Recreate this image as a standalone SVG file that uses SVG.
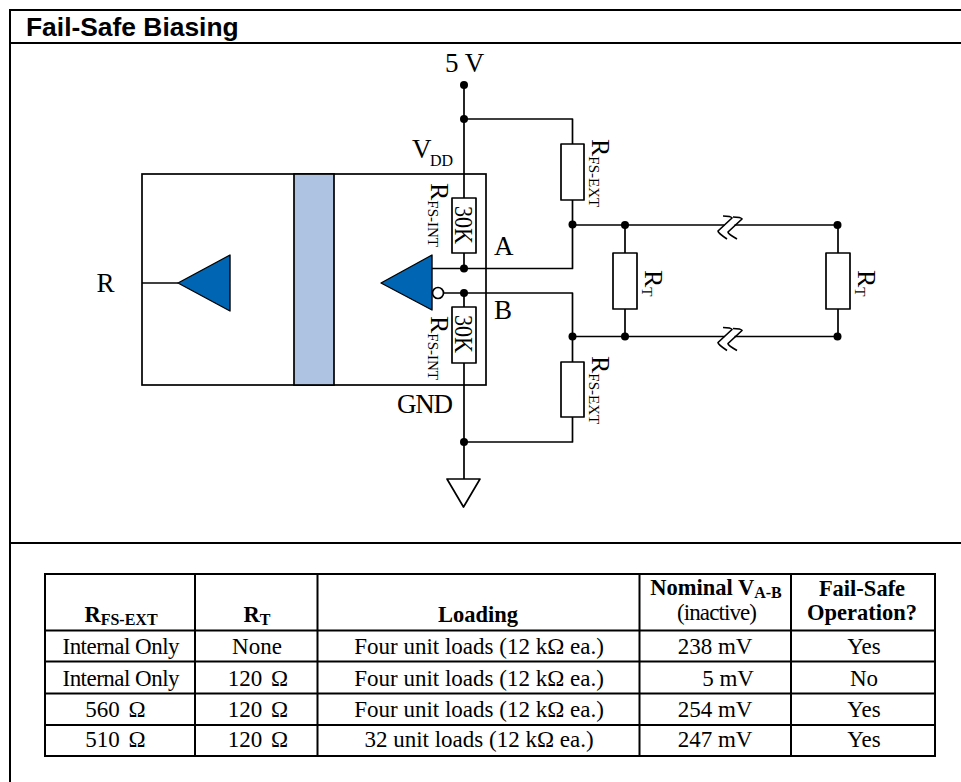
<svg xmlns="http://www.w3.org/2000/svg" width="961" height="782" viewBox="0 0 961 782">
<style>
text{font-family:"Liberation Serif","Times New Roman",serif;fill:#000}
.wire{fill:none;stroke:#000;stroke-width:1.7;stroke-linejoin:round}
.box{fill:#fff;stroke:#000;stroke-width:1.7;stroke-linejoin:round}
.frame{fill:none;stroke:#000;stroke-width:2}
.tri{fill:#0066b3;stroke:#000;stroke-width:1.400;stroke-linejoin:round}
.lbl{font-size:27px}
.sub{font-size:15px}
.rot{font-size:26px}
.cell{font-size:23px;text-anchor:middle}
.ohm{word-spacing:3px}
.head{font-size:22.500px;font-weight:bold;text-anchor:middle}
.grid{stroke:#000;stroke-width:2;fill:none}
</style>
<defs>
<circle id="dot" r="4"/>
<path id="brk" class="wire" d="M-6 -9Q2 -9 3 -7L-11 6Q-11 8 -2 14M4 -8Q12 -8 13 -6L-1 7Q-1 9 8 14"/>
</defs>
<g id="frame">
<path class="frame" d="M961 10H10V782"/>
<path class="frame" d="M10 43H961M10 543H961"/>
<text x="26" y="36" font-size="26.400" font-weight="bold" style="font-family:'Liberation Sans',Arial,sans-serif">Fail-Safe Biasing</text>
</g>
<g id="chip">
<rect x="142" y="174" width="344" height="211" fill="none" stroke="#000" stroke-width="1.700"/>
</g>
<g id="isolation-bar"><rect x="294" y="174" width="40" height="211" fill="#aec2e2" stroke="#000" stroke-width="1.700"/></g>
<g id="connectors">
<path class="wire" d="M142 283H178"/>
<path class="wire" d="M464 85V198M464 119H572.500V144M572.500 200V268.500H432M464 253V268.500"/>
<path class="wire" d="M444 293H572.500V362M572.500 417V442H464M464 293V307M464 363V479"/>
<path class="wire" d="M572.500 225H838V253M625 225V253M625 309V336.500M838 309V336.500M572.500 336.500H838"/>
</g>
<g id="dots">
<use href="#dot" x="464" y="85"/><use href="#dot" x="464" y="119"/><use href="#dot" x="572.500" y="224.500"/><use href="#dot" x="625" y="225"/><use href="#dot" x="837.500" y="225"/>
<use href="#dot" x="464" y="268.500"/><use href="#dot" x="464" y="293"/><use href="#dot" x="572.500" y="336.500"/><use href="#dot" x="625" y="336.500"/><use href="#dot" x="837.500" y="336.500"/><use href="#dot" x="464" y="442"/>
</g>
<g id="breaks">
<rect x="724.500" y="222.500" width="10" height="5" fill="#fff"/>
<rect x="724.500" y="334" width="10" height="5" fill="#fff"/>
<use href="#brk" x="729" y="225"/>
<use href="#brk" x="729" y="336.500"/>
</g>
<g id="driver-left"><path class="tri" d="M178 283L230 255V311Z"/></g>
<g id="receiver"><path class="tri" d="M381 283L432 255V310Z"/><circle cx="438" cy="293" r="5.500" fill="#fff" stroke="#000" stroke-width="1.700"/></g>
<g id="ground"><path class="box" d="M447 479H480L463.500 507Z"/></g>
<g id="r-fs-int-top"><rect class="box" x="452" y="198" width="24" height="55"/><text class="rot" textLength="38" lengthAdjust="spacingAndGlyphs" transform="translate(455,206) rotate(90)">30K</text></g>
<g id="r-fs-int-bot"><rect class="box" x="452" y="307" width="24" height="56"/><text class="rot" textLength="38" lengthAdjust="spacingAndGlyphs" transform="translate(455,315) rotate(90)">30K</text></g>
<g id="r-fs-ext-top"><rect class="box" x="561" y="144" width="23" height="56"/></g>
<g id="r-fs-ext-bot"><rect class="box" x="561" y="362" width="23" height="55"/></g>
<g id="rt-1"><rect class="box" x="613" y="253" width="24" height="56"/></g>
<g id="rt-2"><rect class="box" x="826" y="253" width="24" height="56"/></g>
<g id="labels">
<text class="lbl" x="445" y="72">5 V</text>
<text class="lbl" x="412" y="158">V</text><text class="sub" x="430" y="166" style="font-size:16px">DD</text>
<text class="lbl" x="96.500" y="292">R</text>
<text class="lbl" x="494" y="255">A</text>
<text class="lbl" x="494" y="319">B</text>
<text class="lbl" x="397" y="413" textLength="56">GND</text>
<text class="rot" transform="translate(431,183) rotate(90)">R<tspan class="sub" dy="3">FS-INT</tspan></text>
<text class="rot" transform="translate(431,316) rotate(90)">R<tspan class="sub" dy="3">FS-INT</tspan></text>
<text class="rot" transform="translate(592,139) rotate(90)">R<tspan class="sub" dy="3">FS-EXT</tspan></text>
<text class="rot" transform="translate(592,356) rotate(90)">R<tspan class="sub" dy="3">FS-EXT</tspan></text>
<text class="rot" transform="translate(644.500,270) rotate(90)">R<tspan class="sub" dy="3">T</tspan></text>
<text class="rot" transform="translate(858,270) rotate(90)">R<tspan class="sub" dy="3">T</tspan></text>
</g>
<g id="table">
<path class="grid" d="M45 574H935V756H45ZM195 574V756M317.500 574V756M639.500 574V756M791 574V756M45 630.500H935M45 661.500H935M45 693.500H935M45 725H935"/>
<text class="head" x="121" y="622">R<tspan class="sub" dy="3" style="font-size:16px">FS-EXT</tspan></text>
<text class="head" x="257" y="622">R<tspan class="sub" dy="3" style="font-size:16px">T</tspan></text>
<text class="head" x="478" y="622">Loading</text>
<text class="head" x="716" y="595">Nominal V<tspan class="sub" dy="3" style="font-size:16px">A-B</tspan></text>
<text class="cell" x="717" y="620" textLength="80">(inactive)</text>
<text class="head" x="862" y="596">Fail-Safe</text>
<text class="head" x="862" y="620">Operation?</text>
<text class="cell" x="121" y="654" textLength="117">Internal Only</text><text class="cell" x="257" y="654">None</text><text class="cell" x="479" y="654">Four unit loads (12 kΩ ea.)</text><text class="cell" x="715" y="654">238 mV</text><text class="cell" x="864" y="654">Yes</text>
<text class="cell" x="121" y="686" textLength="117">Internal Only</text><text class="cell ohm" x="258" y="686">120 Ω</text><text class="cell" x="479" y="686">Four unit loads (12 kΩ ea.)</text><text class="cell" x="728" y="686">5 mV</text><text class="cell" x="864" y="686">No</text>
<text class="cell ohm" x="115.500" y="717">560 Ω</text><text class="cell ohm" x="258" y="717">120 Ω</text><text class="cell" x="479" y="717">Four unit loads (12 kΩ ea.)</text><text class="cell" x="715" y="717">254 mV</text><text class="cell" x="864" y="717">Yes</text>
<text class="cell ohm" x="115.500" y="747">510 Ω</text><text class="cell ohm" x="258" y="747">120 Ω</text><text class="cell" x="479" y="747">32 unit loads (12 kΩ ea.)</text><text class="cell" x="715" y="747">247 mV</text><text class="cell" x="864" y="747">Yes</text>
</g>
</svg>
